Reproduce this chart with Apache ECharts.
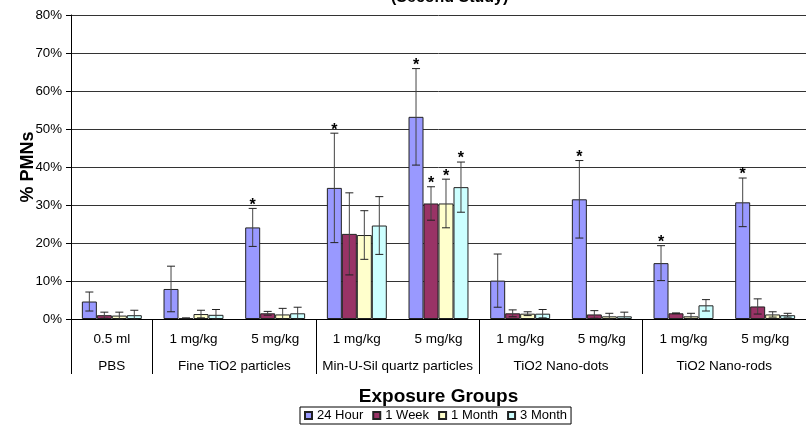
<!DOCTYPE html>
<html>
<head>
<meta charset="utf-8">
<script src="https://cdn.jsdelivr.net/npm/echarts@6/dist/echarts.min.js"></script>
<style>
  html, body { margin: 0; padding: 0; background: #fff; }
  #chart { width: 806px; height: 430px; }
</style>
</head>
<body>
<div id="chart"></div>
<script>
// data (% PMNs)
const doseLabels = ['0.5 ml', '1 mg/kg', '5 mg/kg', '1 mg/kg', '5 mg/kg', '1 mg/kg', '5 mg/kg', '1 mg/kg', '5 mg/kg'];
const groupNames = ['PBS', 'Fine TiO2 particles', 'Min-U-Sil quartz particles', 'TiO2 Nano-dots', 'TiO2 Nano-rods'];
const groupSpans = [1, 2, 2, 2, 2];
const seriesNames = ['24 Hour', '1 Week', '1 Month', '3 Month'];

const hour24 = [4.6, 7.9, 24.1, 34.5, 53.2, 10.1, 31.5, 14.7, 30.7];
const week1 = [1.0, 0.2, 1.5, 22.4, 30.4, 1.5, 1.2, 1.5, 3.3];
const month1 = [0.9, 1.3, 1.2, 22.1, 30.4, 1.4, 0.7, 0.7, 1.2];
const month3 = [1.0, 1.1, 1.5, 24.6, 34.7, 1.4, 0.7, 3.6, 1.0];

const hour24Err = [2.5, 6.0, 5.0, 14.4, 12.7, 7.0, 10.2, 4.6, 6.4];
const week1Err = [0.8, 0.1, 0.5, 10.8, 4.4, 0.9, 1.0, 0.1, 2.0];
const month1Err = [0.9, 1.0, 1.6, 6.4, 6.4, 0.5, 0.8, 0.8, 0.7];
const month3Err = [1.3, 1.4, 1.6, 7.6, 6.6, 1.1, 1.1, 1.5, 0.5];

// significance markers (*)
const hour24Star = [0, 0, 1, 1, 1, 0, 1, 1, 1];
const week1Star = [0, 0, 0, 0, 1, 0, 0, 0, 0];
const month1Star = [0, 0, 0, 0, 1, 0, 0, 0, 0];
const month3Star = [0, 0, 0, 0, 1, 0, 0, 0, 0];

const yTicks = [0, 10, 20, 30, 40, 50, 60, 70, 80];

const values = [hour24, week1, month1, month3];
const errors = [hour24Err, week1Err, month1Err, month3Err];
const stars = [hour24Star, week1Star, month1Star, month3Star];
const colors = ['#9999FF', '#993366', '#FFFFCC', '#CCFFFF'];
const FONT = '"Liberation Sans", Arial, sans-serif';
const CAT_GAP = 0.266;

// group boundaries / centers on the 0..9 value axis
const groupEdges = [0];
const groupCenters = [];
groupSpans.forEach((s, i) => {
  groupCenters.push(groupEdges[i] + s / 2);
  groupEdges.push(groupEdges[i] + s);
});

const chart = echarts.init(document.getElementById('chart'));

const renderError = (params, api) => {
  const i = api.value(0);
  const v = api.value(1);
  const e = api.value(2);
  const star = api.value(3);
  const s = api.value(4);
  const catW = api.size([1, 0])[0];
  const barW = catW * (1 - CAT_GAP) / 4;
  const x = api.coord([i, v])[0] + (s - 1.5) * barW;
  const hi = api.coord([i, v + e])[1];
  const lo = api.coord([i, Math.max(v - e, 0)])[1];
  const cap = 4;
  const style = { stroke: '#222', lineWidth: 1 };
  const children = [
    { type: 'line', shape: { x1: x, y1: hi, x2: x, y2: lo }, style: { stroke: '#444', lineWidth: 1 } },
    { type: 'line', shape: { x1: x - cap, y1: hi, x2: x + cap, y2: hi }, style },
    { type: 'line', shape: { x1: x - cap, y1: lo, x2: x + cap, y2: lo }, style }
  ];
  if (star) {
    children.push({
      type: 'text',
      style: { text: '*', x: x, y: hi - 3, align: 'center', verticalAlign: 'middle', fontSize: 16, fontWeight: 'bold', fontFamily: FONT, fill: '#000' }
    });
  }
  return { type: 'group', children };
};

const barSeries = seriesNames.map((name, s) => ({
  name,
  type: 'bar',
  xAxisIndex: 0,
  data: values[s],
  barGap: '0%',
  barCategoryGap: (CAT_GAP * 100) + '%',
  itemStyle: { color: colors[s], borderColor: '#222', borderWidth: 1 },
  z: 2
}));

const errSeries = seriesNames.map((name, s) => ({
  name: 'err ' + name,
  type: 'custom',
  xAxisIndex: 0,
  renderItem: renderError,
  data: values[s].map((v, i) => [i, v, errors[s][i], stars[s][i], s]),
  z: 5,
  silent: true
}));

const option = {
  animation: false,
  textStyle: { fontFamily: FONT },
  title: {
    text: '(Second Study)',
    left: 391,
    top: -10,
    padding: 0,
    textStyle: { fontSize: 16, fontWeight: 'bold', color: '#000', fontFamily: FONT }
  },
  legend: {
    data: seriesNames,
    left: 300,
    top: 407,
    padding: [2, 4],
    itemWidth: 7,
    itemHeight: 7,
    itemGap: 9,
    icon: 'rect',
    borderColor: '#000',
    borderWidth: 1,
    backgroundColor: '#fff',
    textStyle: { fontSize: 13, color: '#000', fontFamily: FONT }
  },
  grid: { left: 71, top: 15, width: 744, height: 304, containLabel: false },
  xAxis: [
    {
      type: 'category',
      data: doseLabels,
      position: 'bottom',
      axisLine: { lineStyle: { color: '#000', width: 1 } },
      axisTick: { interval: 0, length: 28, lineStyle: { color: '#000' } },
      axisLabel: { interval: 0, margin: 13, fontSize: 13.5, color: '#000', fontFamily: FONT }
    },
    {
      type: 'value',
      min: 0,
      max: groupEdges[groupEdges.length - 1],
      position: 'bottom',
      name: 'Exposure Groups',
      nameLocation: 'middle',
      nameGap: 68,
      nameMoveOverlap: false,
      nameTextStyle: { fontSize: 19, fontWeight: 'bold', color: '#000', fontFamily: FONT },
      axisLine: { show: false },
      splitLine: { show: false },
      axisTick: { show: true, customValues: groupEdges, length: 55, lineStyle: { color: '#000' } },
      axisLabel: {
        customValues: groupCenters,
        margin: 40,
        fontSize: 13.5,
        color: '#000',
        fontFamily: FONT,
        formatter: (val) => {
          const k = groupCenters.findIndex(c => Math.abs(c - val) < 1e-6);
          return k >= 0 ? groupNames[k] : '';
        }
      }
    }
  ],
  yAxis: {
    type: 'value',
    min: yTicks[0],
    max: yTicks[yTicks.length - 1],
    interval: 10,
    name: '% PMNs',
    nameLocation: 'middle',
    nameGap: 34,
    nameMoveOverlap: false,
    nameTextStyle: { fontSize: 18, fontWeight: 'bold', color: '#000', fontFamily: FONT },
    axisLine: { show: true, lineStyle: { color: '#000' } },
    axisTick: { show: true, inside: false, length: 5, lineStyle: { color: '#000' } },
    axisLabel: { margin: 9, fontSize: 13.3, color: '#000', fontFamily: FONT, formatter: '{value}%' },
    splitLine: { show: true, lineStyle: { color: '#333', width: 1 } }
  },
  series: [...barSeries, ...errSeries]
};

chart.setOption(option);
</script>
</body>
</html>
